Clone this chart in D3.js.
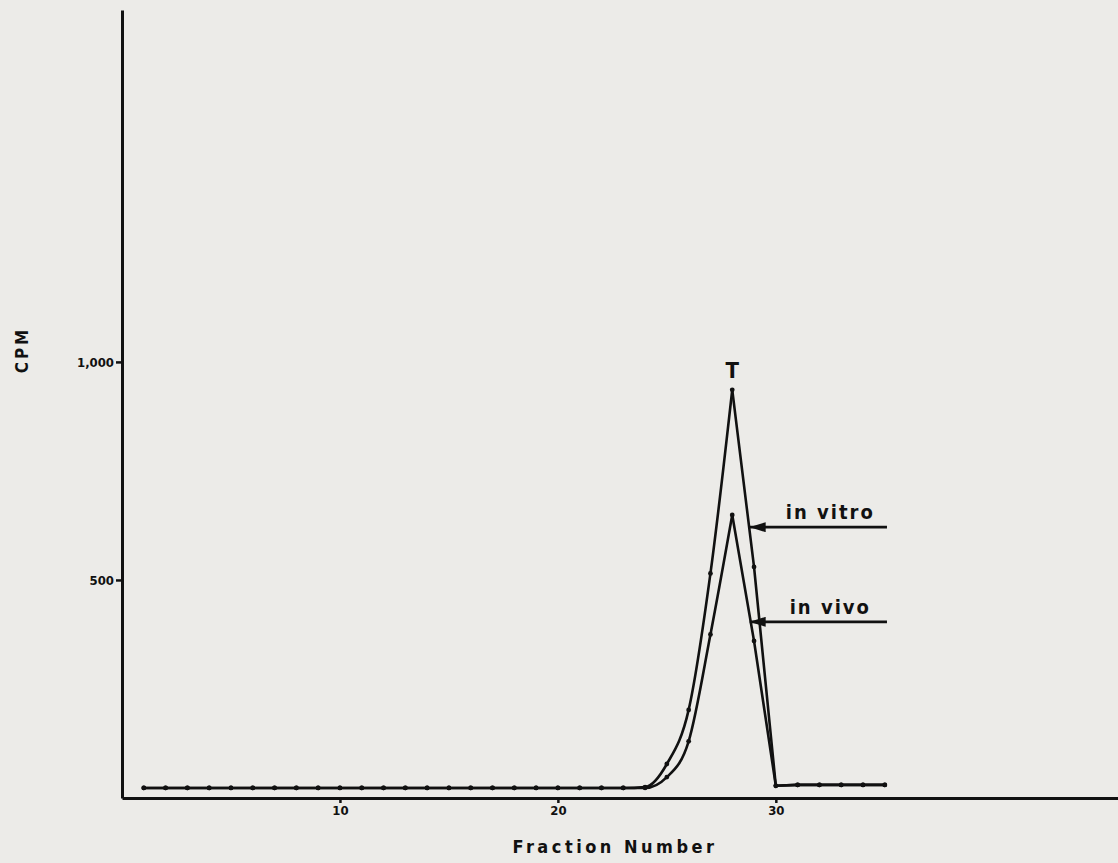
<!DOCTYPE html>
<html>
<head>
<meta charset="utf-8">
<style>
    body { margin: 0; background: #ecebe8; }
    svg { display: block; }
    .axis .domain { stroke: #111; stroke-width: 3px; }
    .axis .tick line { stroke: #111; stroke-width: 2.5px; }
    .axis .tick text {
        font-family: "DejaVu Sans Condensed", "DejaVu Sans", sans-serif;
        font-weight: bold;
        font-size: 13px;
        fill: #111;
    }
    .series { fill: none; stroke: #111; stroke-width: 2.6px; stroke-linejoin: round; }
    .dot { fill: #111; }
    .label {
        font-family: "DejaVu Sans Condensed", "DejaVu Sans", sans-serif;
        font-weight: bold;
        fill: #111;
    }
</style>
</head>
<body>
<svg width="1118" height="863"></svg>

<script src="https://d3js.org/d3.v7.min.js"></script>
<script>

    // fraction numbers collected from the column
    let fractions = [1, 2, 3, 4, 5, 6, 7, 8, 9, 10, 11, 12, 13, 14, 15, 16, 17, 18,
        19, 20, 21, 22, 23, 24, 25, 26, 27, 28, 29, 30, 31, 32, 33, 34, 35];

    // CPM
    let inVitro = [23, 23, 23, 23, 23, 23, 23, 23, 23, 23, 23, 23, 23, 23, 23, 23, 23, 23,
        23, 23, 23, 23, 23, 25, 78, 202, 515, 936, 530, 28, 30, 30, 30, 30, 30];
    let inVivo = [23, 23, 23, 23, 23, 23, 23, 23, 23, 23, 23, 23, 23, 23, 23, 23, 23, 23,
        23, 23, 23, 23, 23, 23, 48, 130, 375, 649, 360, 28, 30, 30, 30, 30, 30];

    let xTicks = [10, 20, 30];
    let yTicks = [500, 1000];

    // arrow labels: name and CPM level of the arrow
    let arrowNames = ["in vitro", "in vivo"];
    let arrowLevels = [621, 404];
    let peakFraction = 28;

    let svg = d3.select("svg");

    let x = d3.scaleLinear()
        .domain([0, 45.7])
        .range([122, 1118]);

    let y = d3.scaleLinear()
        .domain([0, 1807])
        .range([798, 10]);

    let xAxis = svg.append("g")
        .attr("class", "x axis")
        .attr("transform", `translate(0,${y(0)})`)
        .call(d3.axisBottom(x)
            .tickValues(xTicks)
            .tickSize(5)
            .tickSizeOuter(0)
            .tickPadding(3)
            .tickFormat(d3.format("d")));

    let yAxis = svg.append("g")
        .attr("class", "y axis")
        .attr("transform", `translate(${x(0)},0)`)
        .call(d3.axisLeft(y)
            .tickValues(yTicks)
            .tickSize(6)
            .tickSizeOuter(0)
            .tickPadding(2)
            .tickFormat(d3.format(",")));

    // build rows
    let series = [inVitro, inVivo].map(function (vals) {
        return fractions.map(function (f, i) { return { f: f, v: vals[i] } });
    });

    let rise = d3.line()
        .x(d => x(d.f))
        .y(d => y(d.v))
        .curve(d3.curveMonotoneX);

    let fall = d3.line()
        .x(d => x(d.f))
        .y(d => y(d.v));

    series.forEach(function (rows) {
        svg.append("path")
            .attr("class", "series")
            .attr("d", rise(rows.filter(d => d.f <= peakFraction)));
        svg.append("path")
            .attr("class", "series")
            .attr("d", fall(rows.filter(d => d.f >= peakFraction)));

        svg.append("g")
            .selectAll("circle")
            .data(rows)
            .join("circle")
            .attr("class", "dot")
            .attr("cx", d => x(d.f))
            .attr("cy", d => y(d.v))
            .attr("r", 2.4);
    });

    // T marker above the peak
    svg.append("text")
        .attr("class", "label")
        .attr("x", x(peakFraction))
        .attr("y", y(d3.max(inVitro)) - 12)
        .attr("text-anchor", "middle")
        .style("font-size", "22px")
        .text("T");

    // arrows
    svg.append("defs").append("marker")
        .attr("id", "head")
        .attr("viewBox", "0 0 16 10")
        .attr("refX", 16)
        .attr("refY", 5)
        .attr("markerUnits", "userSpaceOnUse")
        .attr("markerWidth", 16)
        .attr("markerHeight", 10)
        .attr("orient", "auto")
        .append("path")
        .attr("d", "M0,0 L16,5 L0,10 Z")
        .attr("fill", "#111");

    arrowNames.forEach(function (name, i) {
        svg.append("line")
            .attr("x1", x(35.1))
            .attr("x2", x(28.8))
            .attr("y1", y(arrowLevels[i]))
            .attr("y2", y(arrowLevels[i]))
            .attr("stroke", "#111")
            .attr("stroke-width", 2.8)
            .attr("marker-end", "url(#head)");

        svg.append("text")
            .attr("class", "label")
            .attr("x", x(32.5))
            .attr("y", y(arrowLevels[i]) - 8)
            .attr("text-anchor", "middle")
            .style("font-size", "20px")
            .style("letter-spacing", "2px")
            .text(name);
    });

    // axis titles
    svg.append("text")
        .attr("class", "label")
        .attr("x", 615)
        .attr("y", 853)
        .attr("text-anchor", "middle")
        .style("font-size", "18px")
        .style("letter-spacing", "3.5px")
        .text("Fraction Number");

    svg.append("text")
        .attr("class", "label")
        .attr("transform", "translate(28,350) rotate(-90)")
        .attr("text-anchor", "middle")
        .style("font-size", "17px")
        .style("letter-spacing", "3px")
        .text("CPM");

</script>
</body>
</html>
